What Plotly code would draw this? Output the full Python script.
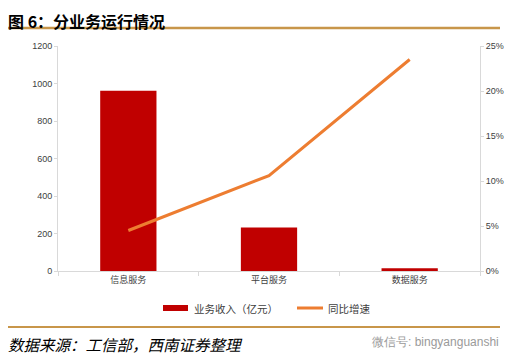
import plotly.graph_objects as go

categories = ["信息服务", "平台服务", "数据服务"]
revenue = [962, 232, 15]          # 业务收入（亿元）
growth = [0.045, 0.106, 0.235]    # 同比增速
left_ticks = [0, 200, 400, 600, 800, 1000, 1200]
right_ticks = [0, 0.05, 0.10, 0.15, 0.20, 0.25]
right_tick_text = ["0%", "5%", "10%", "15%", "20%", "25%"]

FONT = "Noto Sans CJK SC"
OFF = 8  # page body margin
W, H = 518 - OFF, 364 - OFF
PL, PR, PT, PB = 58, 480, 46, 271  # plot area in screen px


def px(x):
    return (x - PL) / (PR - PL)


def py(y):
    return (PB - y) / (PB - PT)


fig = go.Figure()
fig.add_trace(go.Bar(x=categories, y=revenue, name="业务收入（亿元）",
                     marker=dict(color="#C00000", line=dict(width=0)), width=0.4, yaxis="y"))
fig.add_trace(go.Scatter(x=categories, y=growth, name="同比增速", mode="lines",
                         line=dict(color="#ED7D31", width=3), yaxis="y2"))

axcol = "#D9D9D9"
fig.update_layout(
    width=W, height=H,
    margin=dict(l=PL - OFF, r=W - (PR - OFF), t=PT - OFF, b=H - (PB - OFF), autoexpand=False),
    paper_bgcolor="white", plot_bgcolor="white",
    font=dict(family=FONT, size=9, color="#404040"),
    showlegend=False,
    xaxis=dict(showline=True, linecolor=axcol, linewidth=1, ticks="outside", tickcolor=axcol,
               ticklen=4, tickson="boundaries", showgrid=False, automargin=False,
               tickfont=dict(size=9, color="#404040")),
    yaxis=dict(range=[0, 1200], tickvals=left_ticks, showline=True, linecolor=axcol,
               ticks="outside", tickcolor=axcol, ticklen=3, showgrid=False, zeroline=False,
               automargin=False,
               tickfont=dict(family="Liberation Sans", size=9, color="#404040")),
    yaxis2=dict(range=[0, 0.25], tickvals=right_ticks, ticktext=right_tick_text,
                overlaying="y", side="right", showline=True, linecolor=axcol,
                ticks="outside", tickcolor=axcol, ticklen=3, showgrid=False, zeroline=False,
                automargin=False,
                tickfont=dict(family="Liberation Sans", size=9, color="#404040")),
    bargap=0.6,
)

gold = "#C8964A"
fig.add_shape(type="line", xref="paper", yref="paper", x0=px(6), x1=px(500),
              y0=py(28), y1=py(28), line=dict(color=gold, width=2.5))
fig.add_shape(type="line", xref="paper", yref="paper", x0=px(6), x1=px(500),
              y0=py(327), y1=py(327), line=dict(color=gold, width=2))

# manual legend
fig.add_shape(type="rect", xref="paper", yref="paper", x0=px(163), x1=px(188),
              y0=py(311), y1=py(305), fillcolor="#C00000", line=dict(width=0))
fig.add_annotation(text="业务收入（亿元）", xref="paper", yref="paper", x=px(192), y=py(308),
                   xanchor="left", yanchor="middle", showarrow=False,
                   font=dict(family=FONT, size=10.5, color="#404040"))
fig.add_shape(type="line", xref="paper", yref="paper", x0=px(297), x1=px(323),
              y0=py(308), y1=py(308), line=dict(color="#ED7D31", width=3))
fig.add_annotation(text="同比增速", xref="paper", yref="paper", x=px(326), y=py(308),
                   xanchor="left", yanchor="middle", showarrow=False,
                   font=dict(family=FONT, size=10.5, color="#404040"))

fig.add_annotation(text="<b>图 6：分业务运行情况</b>", xref="paper", yref="paper",
                   x=px(7), y=py(8), xanchor="left", yanchor="top", borderpad=0,
                   showarrow=False, font=dict(family=FONT, size=16, color="black"))
fig.add_annotation(text="<i>数据来源：工信部，西南证券整理</i>", xref="paper", yref="paper",
                   x=px(6), y=py(344), xanchor="left", yanchor="middle",
                   showarrow=False, font=dict(family=FONT, size=15.5, color="black"))
fig.add_annotation(text="微信号: bingyanguanshi", xref="paper", yref="paper",
                   x=px(501), y=py(342), xanchor="right", yanchor="middle",
                   showarrow=False, font=dict(family="Liberation Sans", size=12, color="#9A9A9A"))

fig.write_html("out.html")
